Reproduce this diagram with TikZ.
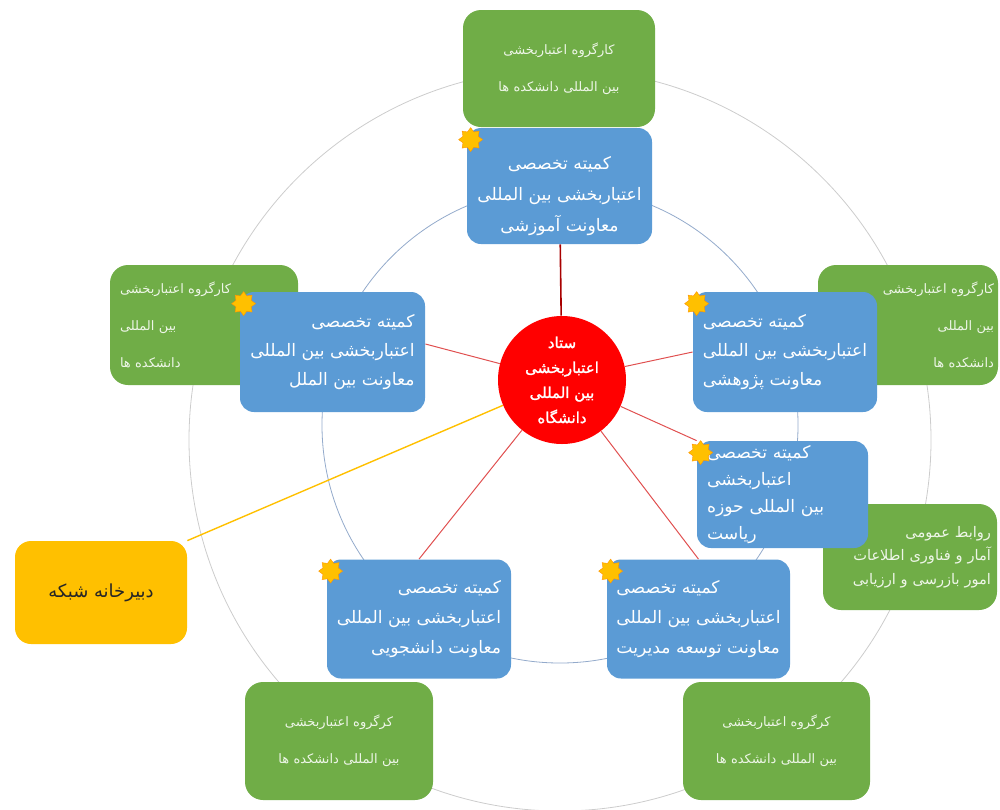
\documentclass[tikz,border=0pt]{standalone}
\usepackage{fontspec}
\usetikzlibrary{shapes.geometric,backgrounds}
\newfontfamily\fa[Script=Arabic]{DejaVu Sans}
\newfontfamily\fab[Script=Arabic,FakeBold=1.5]{DejaVu Sans}
\TeXXeTstate=1
\newcommand{\rl}[1]{\beginR #1\endR}
\definecolor{kgreen}{HTML}{70AD47}
\definecolor{kblue}{HTML}{5B9BD5}
\definecolor{kgold}{HTML}{FFC000}
\definecolor{kred}{HTML}{FF0000}
\definecolor{kmaroon}{HTML}{A80000}
\definecolor{kline}{HTML}{E05050}
\definecolor{kring}{HTML}{93AACB}
\definecolor{gtext}{HTML}{EEF6E8}
\tikzset{
  bluebox/.style={fill=kblue, rounded corners=7pt, text=white, inner xsep=3pt, inner ysep=0pt,
    font=\fa\fontsize{8.6}{15}\selectfont},
  greenbox/.style={fill=kgreen, rounded corners=9pt, text=gtext, inner xsep=5pt, inner ysep=0pt,
    font=\fa\fontsize{6.5}{18.5}\selectfont},
  badge/.style={star, star points=8, star point ratio=1.45, fill=kgold, draw=orange!70!kgold,
    line width=0.2pt, minimum size=12pt, inner sep=0pt},
  spoke/.style={draw=kline, line width=0.5pt},
}
\begin{document}
\begin{tikzpicture}[x=0.5pt, y=-0.5pt]
  \useasboundingbox (0,0) rectangle (1000,809);
  %gruppi di lavoro
  \node[greenbox, minimum height=58.5pt, text width=86pt, align=center] (kgTop) at (559,68.5)
    {\rl{کارگروه اعتباربخشی}\\\rl{بین المللی دانشکده ها}};
  \node[greenbox, minimum height=60pt, text width=84pt, align=left] (kgLeft) at (204,325)
    {\rl{کارگروه اعتباربخشی}\\\rl{بین المللی}\\\rl{دانشکده ها}};
  \node[greenbox, inner xsep=2pt, minimum height=60pt, text width=86pt, align=right] (kgRight) at (908,325)
    {\rl{کارگروه اعتباربخشی}\\\rl{بین المللی}\\\rl{دانشکده ها}};
  \node[greenbox, minimum height=59pt, text width=84pt, align=center] (kgBotLeft) at (339,741)
    {\rl{کرگروه اعتباربخشی}\\\rl{بین المللی دانشکده ها}};
  \node[greenbox, minimum height=59pt, text width=83.5pt, align=center] (kgBotRight) at (776.5,741)
    {\rl{کرگروه اعتباربخشی}\\\rl{بین المللی دانشکده ها}};
  \node[greenbox, inner xsep=3pt, minimum height=53pt, text width=81pt, align=right,
    font=\fa\fontsize{7.3}{11.8}\selectfont] (kgPR) at (910,557)
    {\rl{روابط عمومی}\\\rl{آمار و فناوری اطلاعات}\\\rl{امور بازرسی و ارزیابی}};
  %comitati
  \node[bluebox, minimum width=92.5pt, minimum height=58pt, align=center, text height=48pt,
    font=\fa\fontsize{8.6}{15.5}\selectfont] (ktAmoozesh) at (559.5,186)
    {\rl{کمیته تخصصی}\\\rl{اعتباربخشی بین المللی}\\\rl{معاونت آموزشی}};
  \node[bluebox, minimum width=92.5pt, minimum height=60pt, align=right,
    font=\fa\fontsize{8.6}{14.5}\selectfont] (ktBeynolmelal) at (332.5,352)
    {\rl{کمیته تخصصی}\\\rl{اعتباربخشی بین المللی}\\\rl{معاونت بین الملل}};
  \node[bluebox, minimum width=92pt, minimum height=60pt, align=left,
    font=\fa\fontsize{8.6}{14.5}\selectfont] (ktPazhooheshi) at (785,352)
    {\rl{کمیته تخصصی}\\\rl{اعتباربخشی بین المللی}\\\rl{معاونت پژوهشی}};
  \node[bluebox, inner xsep=5pt, minimum height=53.5pt, text width=75.5pt, align=left,
    font=\fa\fontsize{8.6}{13.5}\selectfont] (ktRiasat) at (782.5,494.5)
    {\rl{کمیته تخصصی}\\\rl{اعتباربخشی}\\\rl{بین المللی حوزه}\\\rl{ریاست}};
  \node[bluebox, minimum width=91.5pt, minimum height=59.5pt, align=left] (ktModiriyat) at (698.5,619)
    {\rl{کمیته تخصصی}\\\rl{اعتباربخشی بین المللی}\\\rl{معاونت توسعه مدیریت}};
  \node[bluebox, minimum width=92pt, minimum height=59.5pt, align=right] (ktDaneshjooi) at (419,619)
    {\rl{کمیته تخصصی}\\\rl{اعتباربخشی بین المللی}\\\rl{معاونت دانشجویی}};
  %stelle
  \foreach \k in {ktAmoozesh, ktBeynolmelal, ktPazhooheshi, ktRiasat, ktModiriyat, ktDaneshjooi}
    \node[badge] (star-\k) at ([shift={(4,12)}]\k.north west) {};
  %centro e segreteria
  \node[circle, fill=kred, minimum size=64pt, inner sep=0pt, text=white, align=center,
    font=\fab\fontsize{7.5}{12.5}\selectfont] (setad) at (562,380)
    {\rl{ستاد}\\\rl{اعتباربخشی}\\\rl{بین المللی}\\\rl{دانشگاه}};
  \node[fill=kgold, rounded corners=8pt, minimum width=86pt, minimum height=51.5pt, text=black!85,
    font=\fa\fontsize{9}{11}\selectfont] (dabirkhane) at (101,592.5) {\rl{دبیرخانه شبکه}};
  %cerchi e collegamenti
  \begin{scope}[on background layer]
    \draw[gray!40, line width=0.4pt] (560,440) circle [radius=185.5pt];
    \draw[kring, line width=0.4pt] (560,425) circle [radius=119pt];
    \draw[kmaroon, line width=0.8pt] (setad) -- (ktAmoozesh);
    \draw[spoke] (setad) -- ([yshift=4pt]ktBeynolmelal.east);
    \draw[spoke] (setad) -- (ktPazhooheshi.west);
    \draw[spoke] (setad) -- (ktRiasat.north west);
    \draw[spoke] (setad) -- (ktModiriyat.north);
    \draw[spoke] (setad) -- (ktDaneshjooi.north);
    \draw[kgold, line width=0.7pt] (setad) -- (dabirkhane.north east);
  \end{scope}
\end{tikzpicture}
\end{document}
